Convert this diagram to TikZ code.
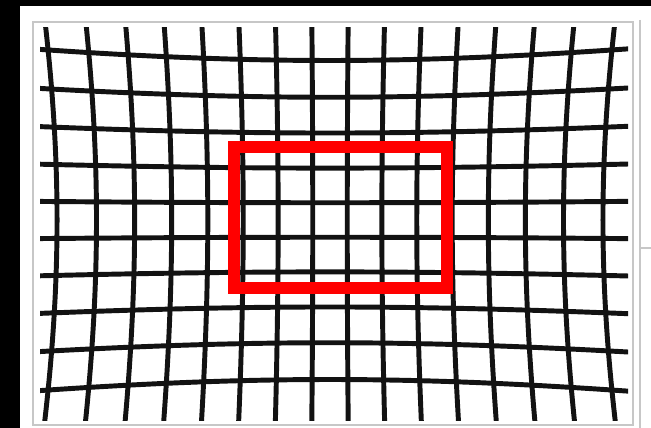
\documentclass[tikz,border=0pt]{standalone}
\begin{document}
\begin{tikzpicture}[x=0.75pt,y=-0.75pt,
  gridline/.style={line width=3.7pt,draw=black!93},
  frameline/.style={line width=1.3pt,draw=black!22},
  zoombox/.style={line width=9pt,draw=red}]
\useasboundingbox (0,0) rectangle (651,428);
\fill[black] (0,0) rectangle (651,428);
\fill[white] (20,6) rectangle (651,428);
\draw[frameline] (33,22) rectangle (633,425);
\draw[frameline] (640,20) -- (640,428);
\draw[frameline] (640,248) -- (651,248);
\begin{scope}
\clip (40,28) rectangle (628,420);
\foreach \u in {-7.5,-6.5,...,7.5}{
  \draw[gridline] plot[domain=-6:6,samples=31,variable=\t,smooth]
   ({330+34.5*(\u)*(1+0.00098*(\u)*(\u)+0.001714*\t*\t)},
    {220+34.5*\t*(1+0.001352*\t*\t+0.001202*(\u)*(\u))});
}
\foreach \v in {-4.5,-3.5,...,4.5}{
  \draw[gridline] plot[domain=-9:9,samples=41,variable=\t,smooth]
   ({330+34.5*\t*(1+0.00098*\t*\t+0.001714*(\v)*(\v))},
    {220+34.5*(\v)*(1+0.001352*(\v)*(\v)+0.001202*\t*\t)});
}
\end{scope}
\draw[zoombox] (233.5,147.5) rectangle (446.5,288.5);
\end{tikzpicture}
\end{document}
